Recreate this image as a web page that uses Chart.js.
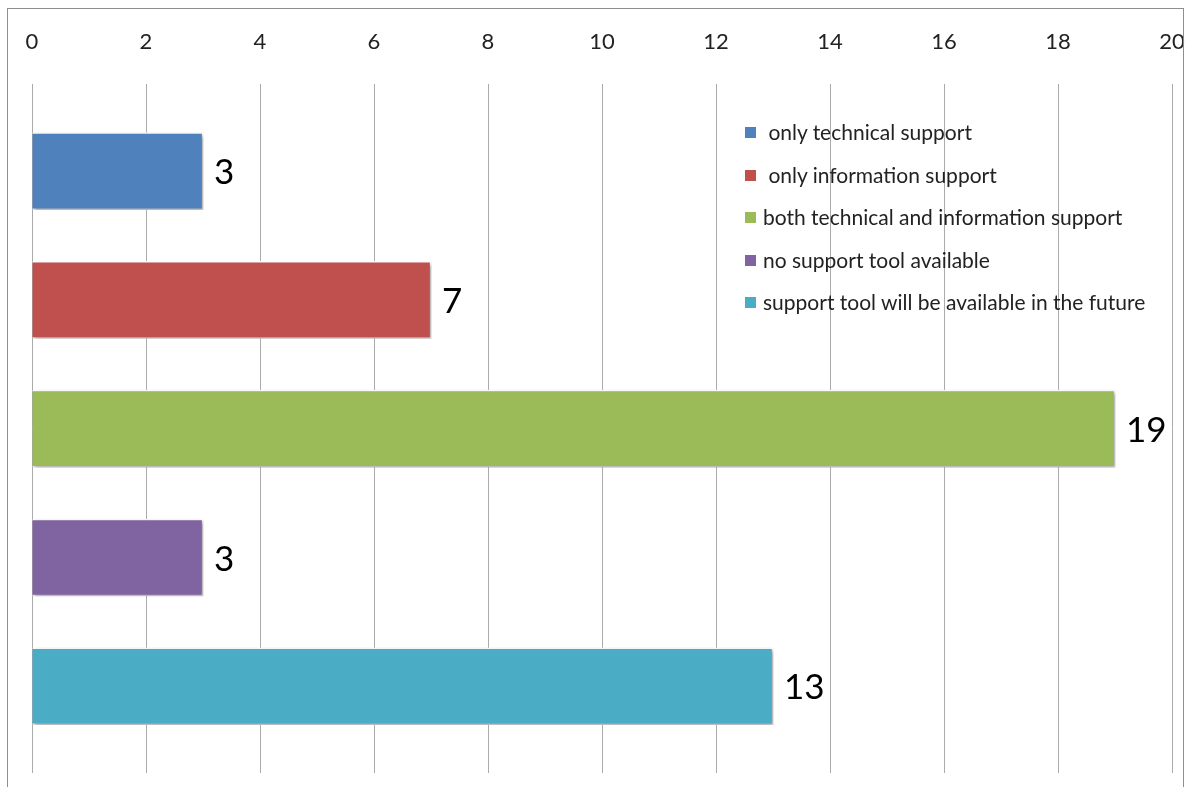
<!DOCTYPE html>
<html>
<head>
<meta charset="utf-8">
<script src="https://cdn.jsdelivr.net/npm/chart.js@4/dist/chart.umd.min.js"></script>
<style>
  html, body { margin: 0; padding: 0; background: #fff; }
  #wrap { position: relative; width: 1193px; height: 787px; overflow: hidden; }
  #frame { position: absolute; left: 7px; top: 8px; width: 1177px; height: 900px;
           border: 1.5px solid #8e8e8e; box-sizing: border-box; }
  #legend { position: absolute; left: 745px; top: 119px; font-family: Lato, "Open Sans", sans-serif;
            font-size: 21px; color: #222; }
  #legend div { height: 42.5px; display: flex; align-items: flex-start; white-space: pre; }
  #legend span.box { display: inline-block; width: 11px; height: 11px; margin-top: 8px; margin-right: 7px; }
</style>
</head>
<body>
<div id="wrap">
  <div id="frame"></div>
  <canvas id="bars" width="1193" height="787"></canvas>
  <div id="legend"></div>
</div>
<script>
const categories = [
  " only technical support",
  " only information support",
  "both technical and information support",
  "no support tool available",
  "support tool will be available in the future"
];
const counts = [3, 7, 19, 3, 13];
const barColors = ["#4F81BD", "#C0504D", "#9BBB59", "#8064A2", "#4BACC6"];
const xTicks = [0, 2, 4, 6, 8, 10, 12, 14, 16, 18, 20];

// html legend, one row per category
const legendEl = document.getElementById("legend");
categories.forEach((c, i) => {
  const row = document.createElement("div");
  const box = document.createElement("span");
  box.className = "box";
  box.style.background = barColors[i];
  row.appendChild(box);
  row.appendChild(document.createTextNode(c));
  legendEl.appendChild(row);
});

// soft drop shadow under the bars
const barShadow = {
  id: "barShadow",
  beforeDatasetsDraw(chart) {
    const ctx = chart.ctx;
    ctx.save();
    ctx.shadowColor = "rgba(0,0,0,0.35)";
    ctx.shadowBlur = 4;
    ctx.shadowOffsetX = 2;
    ctx.shadowOffsetY = 2;
  },
  afterDatasetsDraw(chart) {
    chart.ctx.restore();
  }
};

// value written right of each bar
const valueLabels = {
  id: "valueLabels",
  afterDatasetsDraw(chart) {
    const ctx = chart.ctx;
    const meta = chart.getDatasetMeta(0);
    ctx.save();
    ctx.font = "35px Lato, 'Open Sans', sans-serif";
    ctx.fillStyle = "#000";
    ctx.textAlign = "left";
    ctx.textBaseline = "middle";
    meta.data.forEach((bar, i) => {
      ctx.fillText(String(counts[i]), bar.x + 11, bar.y + 2);
    });
    ctx.restore();
  }
};

new Chart(document.getElementById("bars"), {
  type: "bar",
  data: {
    datasets: [{
      label: "support",
      data: counts.map((v, i) => ({ x: v, y: i })),
      backgroundColor: barColors,
      borderColor: "#ffffff",
      borderWidth: 1.5,
      barThickness: 77
    }]
  },
  options: {
    indexAxis: "y",
    responsive: false,
    animation: false,
    layout: { padding: { left: 32, right: 21, top: 0, bottom: 14 } },
    plugins: {
      legend: { display: false },
      tooltip: { enabled: false }
    },
    scales: {
      x: {
        position: "top",
        min: 0,
        max: 20,
        offset: false,
        afterBuildTicks(axis) { axis.ticks = xTicks.map(v => ({ value: v })); },
        afterFit(axis) { axis.paddingLeft = 0; axis.paddingRight = 0; },
        grid: { color: "#ababab", lineWidth: 1, drawTicks: false },
        border: { display: false },
        ticks: {
          padding: 29,
          maxRotation: 0,
          color: "#222",
          font: { family: "Lato, 'Open Sans', sans-serif", size: 22 }
        }
      },
      y: {
        type: "linear",
        reverse: true,
        offset: false,
        min: -0.674,
        max: 4.674,
        display: false
      }
    }
  },
  plugins: [barShadow, valueLabels]
});
</script>
</body>
</html>
